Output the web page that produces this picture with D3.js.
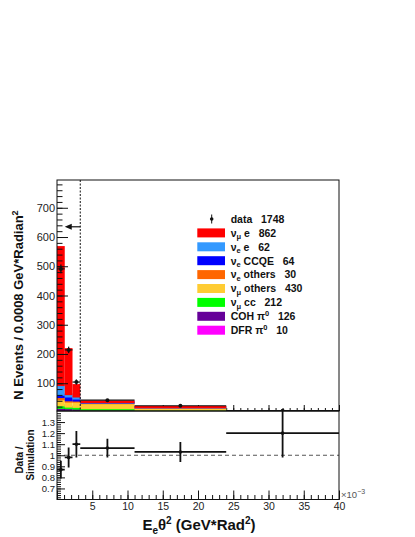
<!DOCTYPE html>
<html><head><meta charset="utf-8">
<script src="https://cdn.jsdelivr.net/npm/d3@7"></script>
<style>
html,body{margin:0;padding:0;background:#fff;}
svg{display:block;font-family:"Liberation Sans",Arial,Helvetica,sans-serif;}
</style></head>
<body>
<svg id="c" width="415" height="537"></svg>
<script>
// ---------- data ----------
const binEdges = [0, 1.1, 2.2, 3.3, 11, 24, 40]; // x 10^-3 GeV*Rad^2
// stacked components, bottom -> top (N Events / 0.0008 GeV*Radian^2)
const dfrPi0     = [2, 1.5, 1.5, 1, 0.5, 0.2];
const cohPi0     = [17, 16.5, 15, 12, 8, 3];
const numuCC     = [9, 5.5, 6, 5, 4.5, 0.8];
const numuOthers = [21, 17, 18, 17, 7, 0.8];
const nueOthers  = [7, 4.5, 3.5, 2, 1, 0.2];
const nueCCQE    = [8, 13, 7, 1, 0.3, 0.1];
const nueE       = [33, 8, 7, 1, 0.5, 0.1];
const numuE      = [472, 154, 39, 2, 0.6, 0.1];
const stackSeries = [dfrPi0, cohPi0, numuCC, numuOthers, nueOthers, nueCCQE, nueE, numuE];
const stackColors = ["#ff00ff", "#660099", "#00ff00", "#ffcc33", "#ff6600", "#0000ff", "#3399ff", "#ff0000"];

const dataVals  = [491, 214, 104, 42, 23, 6.2];
const dataErr   = [15, 11, 9, 2.5, 1.5, 1.5];
const ratioVals = [0.87, 0.98, 1.10, 1.065, 1.03, 1.20];
const ratioErr  = [0.08, 0.09, 0.12, 0.085, 0.09, 0.22];

// legend (top -> bottom)
const legendBase  = ["ν", "ν", "ν", "ν", "ν", "ν", "COH π", "DFR π"];
const legendSub   = ["μ", "e", "e", "e", "μ", "μ", "", ""];
const legendSup   = ["", "", "", "", "", "", "0", "0"];
const legendRest  = [" e", " e", " CCQE", " others", " others", " cc", "", ""];
const legendCount = [862, 62, 64, 30, 430, 212, 126, 10];
const legendColors = ["#ff0000", "#3399ff", "#0000ff", "#ff6600", "#ffcc33", "#00ff00", "#660099", "#ff00ff"];
const dataCount = 1748;

const yUpperTicks = [100, 200, 300, 400, 500, 600, 700];
const yRatioTicks = [0.7, 0.8, 0.9, 1, 1.1, 1.2, 1.3];
const xTickLabels = [5, 10, 15, 20, 25, 30, 35, 40];
const cutValue = 3.3;
const arrowY = 635;

// ---------- layout ----------
const svg = d3.select("#c");
const xL = 57, xR = 339, yTop = 180, yMid = 411, yBot = 499.5;
const x = d3.scaleLinear().domain([0, 40]).range([xL, xR]);
const yU = d3.scaleLinear().domain([5, 795]).range([yMid, yTop]);
const yR = d3.scaleLinear().domain([0.6, 1.4]).range([yBot, yMid]);
const ink = "#111";

svg.append("defs").append("clipPath").attr("id", "clipU")
  .append("rect").attr("x", xL).attr("y", yTop).attr("width", xR - xL).attr("height", yMid - yTop);
svg.append("defs").append("clipPath").attr("id", "clipR")
  .append("rect").attr("x", xL).attr("y", yMid).attr("width", xR - xL).attr("height", yBot - yMid);

const minorX = d3.range(0, 41, 1);
const majorX = d3.range(0, 41, 5);

function tickAxis(g, axis) { g.call(axis); g.select(".domain").remove(); g.selectAll("line").attr("stroke", ink); }
// upper panel x ticks (beneath the histograms)
svg.append("g").attr("transform", `translate(0,${yMid})`)
  .call(g => tickAxis(g, d3.axisBottom(x).tickValues(minorX).tickSize(-3).tickFormat("")));
svg.append("g").attr("transform", `translate(0,${yMid})`)
  .call(g => tickAxis(g, d3.axisBottom(x).tickValues(majorX).tickSize(-6).tickFormat("")));

// stacked histogram
const nb = binEdges.length - 1;
const bins = d3.range(nb).map(i => {
  const o = { i };
  stackSeries.forEach((s, k) => o["s" + k] = s[i]);
  return o;
});
const stacked = d3.stack().keys(stackSeries.map((s, k) => "s" + k))(bins);
const gU = svg.append("g").attr("clip-path", "url(#clipU)");
stacked.forEach((layer, k) => {
  gU.selectAll(null).data(layer).enter().append("rect")
    .attr("x", d => x(binEdges[d.data.i]))
    .attr("width", d => x(binEdges[d.data.i + 1]) - x(binEdges[d.data.i]))
    .attr("y", d => yU(d[1]))
    .attr("height", d => Math.max(0, yU(Math.max(d[0], 0)) - yU(d[1])) + 2)
    .attr("fill", stackColors[k]);
});

// upper data points
const gD = svg.append("g").attr("clip-path", "url(#clipU)");
d3.range(nb).forEach(i => {
  const xc = x((binEdges[i] + binEdges[i + 1]) / 2);
  gD.append("line").attr("x1", x(binEdges[i])).attr("x2", x(binEdges[i + 1]))
    .attr("y1", yU(dataVals[i])).attr("y2", yU(dataVals[i])).attr("stroke", ink).attr("stroke-width", 1.2);
  gD.append("line").attr("x1", xc).attr("x2", xc)
    .attr("y1", yU(dataVals[i] - dataErr[i])).attr("y2", yU(dataVals[i] + dataErr[i])).attr("stroke", ink).attr("stroke-width", 1.3);
  gD.append("circle").attr("cx", xc).attr("cy", yU(dataVals[i])).attr("r", 2).attr("fill", ink);
});

// cut line and arrow
svg.append("line").attr("x1", x(cutValue)).attr("x2", x(cutValue)).attr("y1", yTop).attr("y2", yMid)
  .attr("stroke", ink).attr("stroke-width", 1).attr("stroke-dasharray", "2,1.5");
svg.append("line").attr("x1", x(cutValue)).attr("x2", x(1.5)).attr("y1", yU(arrowY)).attr("y2", yU(arrowY))
  .attr("stroke", ink).attr("stroke-width", 1.2);
svg.append("path").attr("d", `M${x(1.1)},${yU(arrowY)} l7,-3 l0,6 z`).attr("fill", ink);

// upper y axis
svg.append("g").attr("transform", `translate(${xL},0)`)
  .call(g => tickAxis(g, d3.axisLeft(yU).tickValues(d3.range(20, 795, 20)).tickSize(-5.5).tickFormat("")));
svg.append("g").attr("transform", `translate(${xL},0)`)
  .call(g => {
    tickAxis(g, d3.axisLeft(yU).tickValues(yUpperTicks).tickSize(-11).tickPadding(2));
    g.selectAll("text").attr("font-size", 11).attr("fill", "#222").attr("font-family", "Liberation Sans, Arial, sans-serif");
  });

// ratio panel
svg.append("line").attr("x1", xL).attr("x2", xR).attr("y1", yR(1)).attr("y2", yR(1))
  .attr("stroke", "#555").attr("stroke-width", 1).attr("stroke-dasharray", "4,3");
const gR = svg.append("g").attr("clip-path", "url(#clipR)");
d3.range(nb).forEach(i => {
  const xc = x((binEdges[i] + binEdges[i + 1]) / 2);
  gR.append("line").attr("x1", x(binEdges[i])).attr("x2", x(binEdges[i + 1]))
    .attr("y1", yR(ratioVals[i])).attr("y2", yR(ratioVals[i])).attr("stroke", ink).attr("stroke-width", 1.8);
  gR.append("line").attr("x1", xc).attr("x2", xc)
    .attr("y1", yR(ratioVals[i] - ratioErr[i])).attr("y2", yR(ratioVals[i] + ratioErr[i])).attr("stroke", ink).attr("stroke-width", 1.8);
  gR.append("circle").attr("cx", xc).attr("cy", yR(ratioVals[i])).attr("r", 1.8).attr("fill", ink);
});
svg.append("g").attr("transform", `translate(${xL},0)`)
  .call(g => tickAxis(g, d3.axisLeft(yR).tickValues(d3.range(0.62, 1.4, 0.02)).tickSize(-4).tickFormat("")));
svg.append("g").attr("transform", `translate(${xL},0)`)
  .call(g => {
    tickAxis(g, d3.axisLeft(yR).tickValues(yRatioTicks).tickSize(-8).tickPadding(2).tickFormat(d => d === 1 ? "1" : d3.format(".1f")(d)));
    g.selectAll("text").attr("font-size", 9.5).attr("fill", "#222").attr("font-family", "Liberation Sans, Arial, sans-serif");
  });
// bottom x axis
svg.append("g").attr("transform", `translate(0,${yBot})`)
  .call(g => tickAxis(g, d3.axisBottom(x).tickValues(minorX).tickSize(-4.5).tickFormat("")));
svg.append("g").attr("transform", `translate(0,${yBot})`)
  .call(g => tickAxis(g, d3.axisBottom(x).tickValues(majorX).tickSize(-9).tickFormat("")));
svg.append("g").attr("transform", `translate(0,${yBot})`)
  .call(g => {
    tickAxis(g, d3.axisBottom(x).tickValues(xTickLabels).tickSize(0).tickPadding(3));
    g.selectAll("text").attr("font-size", 10.5).attr("fill", "#222").attr("font-family", "Liberation Sans, Arial, sans-serif");
  });

// frames
svg.append("rect").attr("x", xL).attr("y", yTop).attr("width", xR - xL).attr("height", yMid - yTop)
  .attr("fill", "none").attr("stroke", ink).attr("stroke-width", 1);
svg.append("rect").attr("x", xL).attr("y", yMid).attr("width", xR - xL).attr("height", yBot - yMid)
  .attr("fill", "none").attr("stroke", ink).attr("stroke-width", 1);

// x10^-3
const ex = svg.append("text").attr("x", 341).attr("y", 498).attr("font-size", 9.5).attr("fill", "#555");
ex.append("tspan").text("×10");
ex.append("tspan").attr("dy", -4).attr("font-size", 7).text("−3");

// axis titles
const yt = svg.append("text").attr("transform", "translate(23,305) rotate(-90)")
  .attr("text-anchor", "middle").attr("font-weight", "bold").attr("font-size", 13).attr("fill", ink);
yt.append("tspan").text("N Events / 0.0008 GeV*Radian");
yt.append("tspan").attr("dy", -5).attr("font-size", 9).text("2");

svg.append("text").attr("transform", "translate(22.5,460) rotate(-90)").attr("text-anchor", "middle")
  .attr("font-weight", "bold").attr("font-size", 10).attr("fill", ink).text("Data /");
svg.append("text").attr("transform", "translate(34,455) rotate(-90)").attr("text-anchor", "middle")
  .attr("font-weight", "bold").attr("font-size", 10).attr("fill", ink).text("Simulation");

const xt = svg.append("text").attr("x", 199).attr("y", 530).attr("text-anchor", "middle")
  .attr("font-weight", "bold").attr("font-size", 15).attr("fill", ink);
xt.append("tspan").text("E");
xt.append("tspan").attr("dy", 4).attr("font-size", 10).text("e");
xt.append("tspan").attr("dy", -4).text("θ");
xt.append("tspan").attr("dy", -6).attr("font-size", 10).text("2");
xt.append("tspan").attr("dy", 6).text(" (GeV*Rad");
xt.append("tspan").attr("dy", -6).attr("font-size", 10).text("2");
xt.append("tspan").attr("dy", 6).text(")");

// legend
const lgX = 197.3, lgTxt = 230.7, lg0 = 219, lgStep = 13.9;
const gap = "\u00a0\u00a0\u00a0";
const lg = svg.append("g").attr("font-weight", "bold").attr("font-size", 10.5).attr("fill", ink);
lg.append("line").attr("x1", 211.7).attr("x2", 211.7).attr("y1", lg0 - 4.5).attr("y2", lg0 + 4.5).attr("stroke", ink).attr("stroke-width", 1);
lg.append("circle").attr("cx", 211.7).attr("cy", lg0).attr("r", 1.8).attr("fill", ink);
lg.append("text").attr("x", lgTxt).attr("y", lg0 + 3.8).text("data" + gap + dataCount);
legendBase.forEach((b, i) => {
  const cy = lg0 + lgStep * (i + 1);
  lg.append("rect").attr("x", lgX).attr("y", cy - 4.5).attr("width", 27.7).attr("height", 9).attr("fill", legendColors[i]);
  const t = lg.append("text").attr("x", lgTxt).attr("y", cy + 3.8);
  t.append("tspan").text(b);
  if (legendSub[i]) {
    t.append("tspan").attr("dy", 2.5).attr("font-size", 7.5).text(legendSub[i]);
    t.append("tspan").attr("dy", -2.5).text(legendRest[i].replace(" ", "\u00a0") + gap + legendCount[i]);
  } else {
    t.append("tspan").attr("dy", -4).attr("font-size", 7.5).text(legendSup[i]);
    t.append("tspan").attr("dy", 4).text(legendRest[i] + gap + legendCount[i]);
  }
});
</script>
</body></html>
